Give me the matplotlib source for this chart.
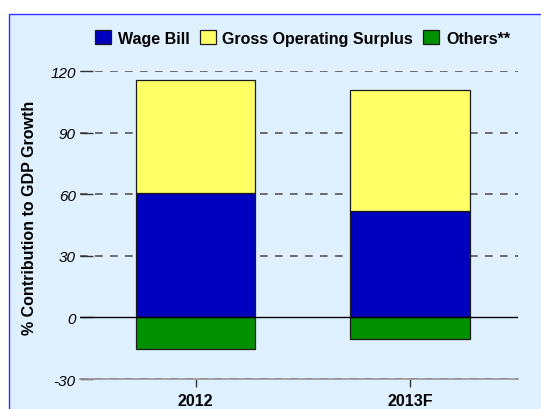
import matplotlib
matplotlib.use("Agg")
import matplotlib.pyplot as plt
from matplotlib.patches import Rectangle

# valores
categorias = ["2012", "2013F"]
wage_bill = [60.6, 52.0]
gross_surplus = [54.9, 58.7]
others = [-15.6, -10.7]
yticks = [-30, 0, 30, 60, 90, 120]

plt.rcParams["font.family"] = ["Liberation Sans", "DejaVu Sans"]

fondo = "#DFF0FF"
fig = plt.figure(figsize=(5.41, 4.1), dpi=100, facecolor="white")

# recuadro azul de fondo
marco = Rectangle((9 / 541, -0.1), 1.2, 1 - 15 / 410 + 0.1,
                  transform=fig.transFigure, facecolor=fondo,
                  edgecolor="#3333FF", linewidth=1, zorder=-1)
fig.patches.append(marco)

ax = fig.add_axes([80 / 541, 1 - 380 / 410, 438 / 541, 308 / 410])
ax.set_facecolor("none")

x = list(range(len(categorias)))
ancho = 0.556
borde = dict(edgecolor="#1a1a1a", linewidth=0.9, zorder=3)
b1 = ax.bar(x, wage_bill, ancho, color="#0000BF", label="Wage Bill", **borde)
b2 = ax.bar(x, gross_surplus, ancho, bottom=wage_bill, color="#FFFF66",
            label="Gross Operating Surplus", **borde)
b3 = ax.bar(x, others, ancho, color="#009000", label="Others**", **borde)

ax.set_xlim(-0.539, 1.503)
ax.set_ylim(-30, 120)

# rejilla discontinua
for v in yticks:
    if v == 0:
        ax.axhline(0, color="black", linewidth=1, zorder=4)
    else:
        ax.axhline(v, color="#555555", linewidth=1.2,
                   linestyle=(0, (4.6, 4.4)), zorder=1)

for lado in ["top", "right", "left"]:
    ax.spines[lado].set_visible(False)
ax.spines["bottom"].set_color("#999999")
ax.spines["bottom"].set_linewidth(1.2)

ax.set_yticks(yticks)
ax.set_yticklabels([str(v) for v in yticks], fontsize=11, style="italic")
ax.tick_params(axis="y", direction="in", length=9.5, width=1,
               color="#333333", pad=3)
ax.set_xticks(x)
ax.set_xticklabels(categorias, fontsize=11.5, fontweight="bold")
ax.tick_params(axis="x", direction="out", length=6, width=1,
               color="#333333", pad=4)

fig.text(30 / 541, 1 - 218 / 410, "% Contribution to GDP Growth",
         rotation=90, ha="center", va="center", fontsize=11.5,
         fontweight="bold")

fig.legend(handles=[b1, b2, b3], loc="center",
           bbox_to_anchor=(302.5 / 541, 1 - 39 / 410), ncol=3,
           frameon=False, handlelength=1.0, handleheight=1.0,
           handletextpad=0.42, columnspacing=0.64, borderpad=0,
           prop={"weight": "bold", "size": 11.5})

plt.savefig("out.png", dpi=100)
